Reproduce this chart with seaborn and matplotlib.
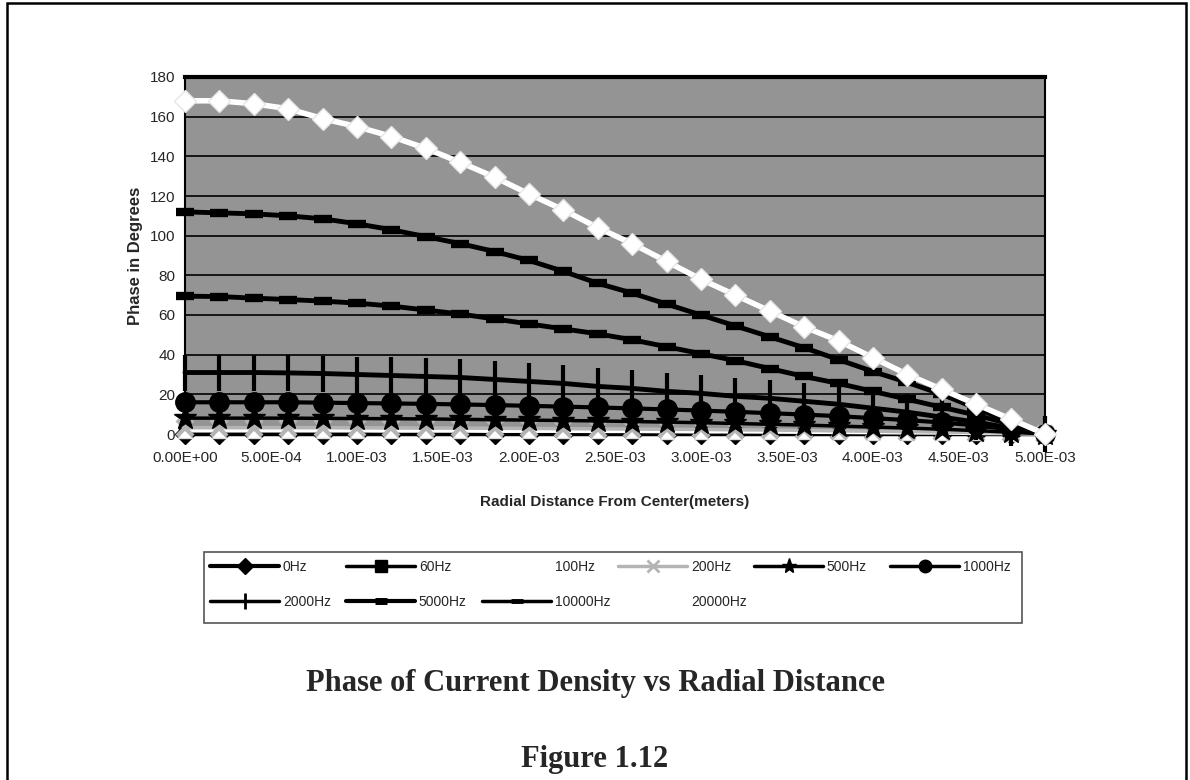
import matplotlib
matplotlib.use("Agg")
import matplotlib.pyplot as plt
import seaborn as sns
import pandas as pd
from matplotlib.lines import Line2D
from matplotlib.patches import Rectangle

# ---------------- data ----------------
radius_m = [0.0, 2e-4, 4e-4, 6e-4, 8e-4, 1.0e-3, 1.2e-3, 1.4e-3, 1.6e-3, 1.8e-3,
            2.0e-3, 2.2e-3, 2.4e-3, 2.6e-3, 2.8e-3, 3.0e-3, 3.2e-3, 3.4e-3, 3.6e-3,
            3.8e-3, 4.0e-3, 4.2e-3, 4.4e-3, 4.6e-3, 4.8e-3, 5.0e-3]

freq_labels = ["0Hz", "60Hz", "100Hz", "200Hz", "500Hz", "1000Hz",
               "2000Hz", "5000Hz", "10000Hz", "20000Hz"]

phase_0hz = [0.0] * 26
phase_60hz = [1.0, 1.0, 1.0, 1.0, 1.0, 0.9, 0.9, 0.9, 0.9, 0.9, 0.8, 0.8, 0.8,
              0.8, 0.7, 0.7, 0.6, 0.6, 0.5, 0.5, 0.4, 0.4, 0.3, 0.2, 0.1, 0.0]
phase_100hz = [1.6, 1.6, 1.6, 1.6, 1.6, 1.6, 1.5, 1.5, 1.5, 1.4, 1.4, 1.4, 1.3,
               1.3, 1.2, 1.1, 1.1, 1.0, 0.9, 0.8, 0.7, 0.6, 0.5, 0.3, 0.2, 0.0]
phase_200hz = [3.2, 3.2, 3.2, 3.2, 3.2, 3.1, 3.1, 3.0, 3.0, 2.9, 2.8, 2.7, 2.6,
               2.5, 2.4, 2.3, 2.1, 2.0, 1.8, 1.6, 1.4, 1.2, 1.0, 0.7, 0.4, 0.0]
phase_500hz = [8.0, 8.0, 8.0, 8.0, 7.9, 7.8, 7.7, 7.6, 7.4, 7.2, 7.0, 6.8, 6.6,
               6.3, 6.0, 5.7, 5.3, 4.9, 4.5, 4.0, 3.5, 3.0, 2.4, 1.7, 0.9, 0.0]
phase_1000hz = [16.0, 16.0, 16.0, 16.0, 15.8, 15.6, 15.4, 15.2, 14.9, 14.6, 14.2,
                13.8, 13.4, 12.9, 12.4, 11.8, 11.2, 10.5, 9.8, 9.0, 8.0, 7.0,
                5.8, 4.3, 2.3, 0.0]
phase_2000hz = [31.0, 31.0, 31.0, 30.8, 30.5, 30.0, 29.5, 29.0, 28.5, 27.5, 26.5,
                25.5, 24.0, 23.0, 21.5, 20.5, 19.0, 18.0, 16.5, 15.0, 13.0, 11.0,
                8.5, 6.0, 3.0, 0.0]
phase_5000hz = [69.5, 69.3, 68.5, 67.8, 67.0, 66.0, 64.5, 62.5, 60.5, 58.0, 55.5,
                53.0, 50.5, 47.5, 44.0, 40.5, 37.0, 33.0, 29.0, 25.5, 21.5, 17.5,
                13.5, 9.5, 5.0, 0.0]
phase_10000hz = [112.0, 111.5, 111.0, 110.0, 108.5, 106.0, 103.0, 99.5, 96.0, 92.0,
                 87.5, 82.0, 76.0, 71.0, 65.5, 60.0, 54.5, 49.0, 43.5, 37.5, 31.5,
                 26.0, 20.0, 13.0, 6.0, 0.0]
phase_20000hz = [168.0, 168.0, 166.5, 164.0, 159.0, 155.0, 150.0, 144.0, 137.0,
                 129.5, 121.0, 113.0, 104.0, 96.0, 87.0, 78.0, 70.0, 62.0, 54.0,
                 47.0, 38.5, 30.0, 22.5, 15.0, 7.5, 0.0]

x_ticks = [0.0, 5e-4, 1.0e-3, 1.5e-3, 2.0e-3, 2.5e-3, 3.0e-3, 3.5e-3, 4.0e-3,
           4.5e-3, 5.0e-3]
x_tick_labels = ["0.00E+00", "5.00E-04", "1.00E-03", "1.50E-03", "2.00E-03",
                 "2.50E-03", "3.00E-03", "3.50E-03", "4.00E-03", "4.50E-03",
                 "5.00E-03"]
y_ticks = [0, 20, 40, 60, 80, 100, 120, 140, 160, 180]

series = [phase_0hz, phase_60hz, phase_100hz, phase_200hz, phase_500hz,
          phase_1000hz, phase_2000hz, phase_5000hz, phase_10000hz, phase_20000hz]

df = pd.concat([pd.DataFrame({"r": radius_m, "phase": vals, "freq": lab})
                for lab, vals in zip(freq_labels, series)], ignore_index=True)

# ---------------- styles ----------------
GRAY = "#b4b4b4"
plot_style = {
    "0Hz":     dict(color="black", lw=2.5, marker="D", ms=10, mfc="black", mec="black", mew=1),
    "60Hz":    dict(color="black", lw=2.5, marker="s", ms=9, mfc="black", mec="black", mew=1),
    "100Hz":   dict(color="white", lw=2.5, marker="^", ms=10, mfc="white", mec="#dddddd", mew=1),
    "200Hz":   dict(color=GRAY, lw=2.5, marker="x", ms=11, mfc=GRAY, mec=GRAY, mew=3),
    "500Hz":   dict(color="black", lw=2.5, marker="*", ms=17, mfc="black", mec="black", mew=1),
    "1000Hz":  dict(color="black", lw=3, marker="o", ms=14, mfc="black", mec="black", mew=1),
    "2000Hz":  dict(color="black", lw=3.5, marker="|", ms=26, mfc="black", mec="black", mew=3),
    "5000Hz":  dict(color="black", lw=3.5, marker="_", ms=13, mfc="black", mec="black", mew=6),
    "10000Hz": dict(color="black", lw=3.5, marker="_", ms=13, mfc="black", mec="black", mew=6),
    "20000Hz": dict(color="white", lw=4, marker="D", ms=11, mfc="white", mec="#e6e6e6", mew=1),
}
legend_style = {
    "0Hz":     dict(color="black", lw=3, marker="D", ms=8, mfc="black", mec="black"),
    "60Hz":    dict(color="black", lw=2.5, marker="s", ms=8, mfc="black", mec="black"),
    "100Hz":   dict(color="white", lw=2.5, marker="^", ms=8, mfc="white", mec="white"),
    "200Hz":   dict(color=GRAY, lw=2.5, marker="x", ms=8, mfc=GRAY, mec=GRAY, mew=2),
    "500Hz":   dict(color="black", lw=2.5, marker="*", ms=11, mfc="black", mec="black"),
    "1000Hz":  dict(color="black", lw=2.5, marker="o", ms=9, mfc="black", mec="black"),
    "2000Hz":  dict(color="black", lw=2.5, marker="|", ms=11, mfc="black", mec="black", mew=2),
    "5000Hz":  dict(color="black", lw=3, marker="_", ms=9, mfc="black", mec="black", mew=5),
    "10000Hz": dict(color="black", lw=2.5, marker="_", ms=8, mfc="black", mec="black", mew=3.5),
    "20000Hz": dict(color="white", lw=2.5, marker="D", ms=8, mfc="white", mec="white"),
}

# ---------------- figure ----------------
sns.set_style("white")
plt.rcParams["font.family"] = ["Liberation Sans", "DejaVu Sans"]

W, H = 1190, 780
fig = plt.figure(figsize=(W / 100, H / 100), dpi=100)
fig.patch.set_facecolor("white")


def fx(px):
    return px / W


def fy(py):
    return 1 - py / H


ax = fig.add_axes([fx(185), fy(434), fx(1045) - fx(185), fy(77) - fy(434)])
ax.set_facecolor("#949494")

for i, lab in enumerate(freq_labels):
    st = plot_style[lab]
    sub = df[df["freq"] == lab]
    sns.lineplot(data=sub, x="r", y="phase", ax=ax, color=st["color"],
                 linewidth=st["lw"], marker=st["marker"], markersize=st["ms"],
                 markerfacecolor=st["mfc"], markeredgecolor=st["mec"],
                 markeredgewidth=st["mew"], estimator=None, sort=False,
                 legend=False, clip_on=False, zorder=5 + i)

ax.set_xlim(0, 5e-3)
ax.set_ylim(0, 180)
ax.set_yticks(y_ticks)
ax.set_yticklabels([str(v) for v in y_ticks])
ax.set_xticks(x_ticks)
ax.set_xticklabels(x_tick_labels)
ax.yaxis.grid(True, color="black", linewidth=1.2)
ax.xaxis.grid(False)
ax.set_axisbelow(True)
ax.tick_params(axis="y", length=4, width=1, color="black", pad=3, labelsize=11)
ax.tick_params(axis="x", length=0, pad=12, labelsize=11)
for s in ["left", "right", "bottom"]:
    ax.spines[s].set_color("black")
    ax.spines[s].set_linewidth(1.5)
ax.spines["top"].set_color("black")
ax.spines["top"].set_linewidth(3)

ax.set_xlabel("Radial Distance From Center(meters)", fontsize=11, fontweight="bold",
              labelpad=22)
ax.set_ylabel("Phase in Degrees", fontsize=12, fontweight="bold", labelpad=5)

# ---------------- legend (Excel style grid) ----------------
fig.patches.append(Rectangle((fx(204), fy(623)), fx(1022) - fx(204), fy(552) - fy(623),
                             transform=fig.transFigure, fill=True, facecolor="white",
                             edgecolor="#555555", linewidth=1.2, zorder=1))
col_x = [210, 346, 482, 618, 754, 890]
row_y = [567, 602]
legend_order = [["0Hz", "60Hz", "100Hz", "200Hz", "500Hz", "1000Hz"],
                ["2000Hz", "5000Hz", "10000Hz", "20000Hz"]]
for r, row in enumerate(legend_order):
    for c, lab in enumerate(row):
        st = legend_style[lab]
        h = Line2D([], [], color=st["color"], linewidth=st["lw"], marker=st["marker"],
                   markersize=st["ms"], markerfacecolor=st["mfc"],
                   markeredgecolor=st["mec"], markeredgewidth=st.get("mew", 1))
        fig.legend(handles=[h], labels=[lab], loc="center left",
                   bbox_to_anchor=(fx(col_x[c]), fy(row_y[r])), frameon=False,
                   borderpad=0, borderaxespad=0, handlelength=5.0,
                   handletextpad=0.25, fontsize=10, numpoints=1)

# ---------------- captions ----------------
fig.text(0.5, fy(684), "Phase of Current Density vs Radial Distance",
         ha="center", va="center", fontsize=22, fontweight="bold",
         family=["Liberation Serif", "DejaVu Serif"])
fig.text(0.5, fy(760), "Figure 1.12", ha="center", va="center", fontsize=22,
         fontweight="bold", family=["Liberation Serif", "DejaVu Serif"])

# outer page border
fig.patches.append(Rectangle((fx(7), -0.02), fx(1186) - fx(7), fy(3) + 0.02,
                             transform=fig.transFigure, fill=False,
                             edgecolor="black", linewidth=1.8, zorder=0))

fig.savefig("out.png", dpi=100, facecolor="white")
